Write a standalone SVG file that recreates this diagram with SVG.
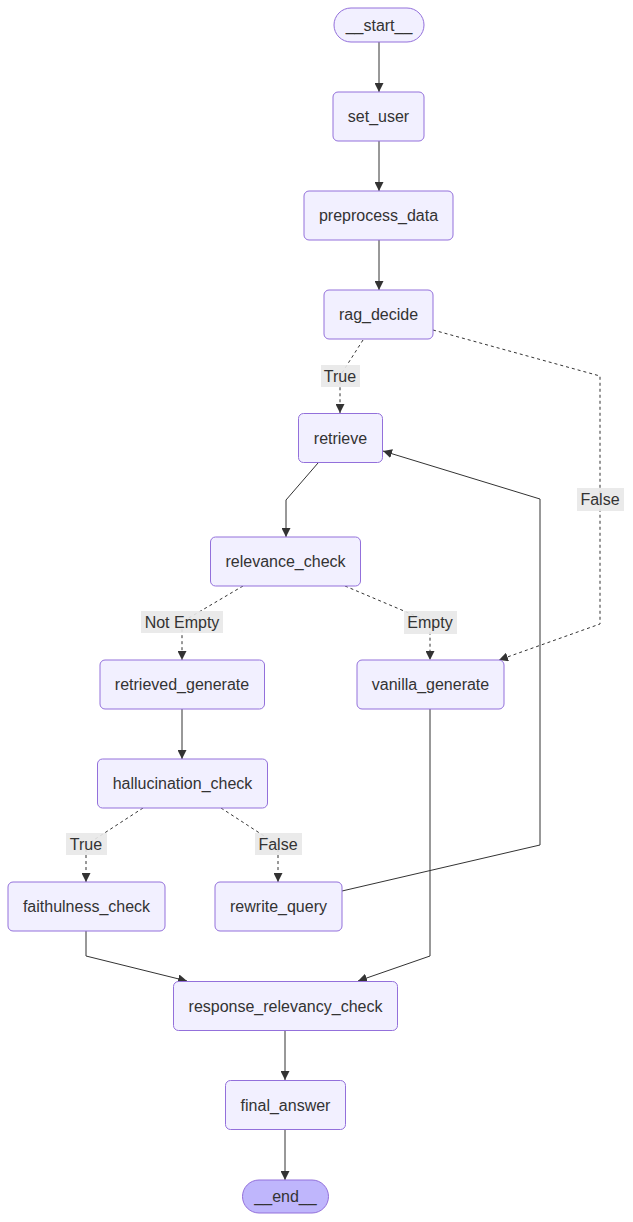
<svg xmlns="http://www.w3.org/2000/svg" width="633" height="1222" viewBox="0 0 633 1222">
<style>
.n rect{fill:#f2f0ff;stroke:#9370db;stroke-width:1}
.n.e rect{fill:#bfb6fc}
text{font-family:"Liberation Sans",Arial,sans-serif;font-size:16px;fill:#333;text-anchor:middle;dominant-baseline:central}
.c path{fill:none;stroke:#333;stroke-width:1}
.c path.d{stroke-dasharray:3 3}
.l rect{fill:#e8e8e8;opacity:0.9}
</style>
<defs>
<marker id="a" viewBox="0 0 10 10" refX="10" refY="5" markerWidth="9" markerHeight="9" markerUnits="userSpaceOnUse" orient="auto">
<path d="M0,0 L10,5 L0,10 z" fill="#333"/>
</marker>
</defs>
<g class="c">
<path d="M379,42 L379,92" marker-end="url(#a)"/>
<path d="M379,141 L379,191" marker-end="url(#a)"/>
<path d="M379,240 L379,290" marker-end="url(#a)"/>
<path class="d" d="M363,340 L340,376 L340,413" marker-end="url(#a)"/>
<path class="d" d="M433,330 L600,376 L600,624 L499,660" marker-end="url(#a)"/>
<path d="M318,463 L286,500 L286,537" marker-end="url(#a)"/>
<path class="d" d="M243,586 L182,622 L182,660" marker-end="url(#a)"/>
<path class="d" d="M345,586 L430,622 L430,660" marker-end="url(#a)"/>
<path d="M182,709 L182,759" marker-end="url(#a)"/>
<path class="d" d="M143,808 L86,845 L86,882" marker-end="url(#a)"/>
<path class="d" d="M221,808 L278,845 L278,882" marker-end="url(#a)"/>
<path d="M342,891 L540,845 L540,499 L383,451" marker-end="url(#a)"/>
<path d="M86,931 L86,956 L187,981" marker-end="url(#a)"/>
<path d="M430,709 L430,956 L358,981" marker-end="url(#a)"/>
<path d="M285,1030 L285,1080" marker-end="url(#a)"/>
<path d="M285,1129 L285,1180" marker-end="url(#a)"/>
</g>
<g class="l">
<g id="l1"><rect x="321" y="365" width="39" height="22"/><text x="340" y="376">True</text></g>
<g id="l2"><rect x="577" y="488" width="47" height="23"/><text x="600" y="499">False</text></g>
<g id="l3"><rect x="141" y="611" width="82" height="22"/><text x="182" y="622">Not Empty</text></g>
<g id="l4"><rect x="404" y="611" width="53" height="23"/><text x="430" y="622">Empty</text></g>
<g id="l5"><rect x="66" y="833" width="41" height="22"/><text x="86" y="844">True</text></g>
<g id="l6"><rect x="255" y="833" width="47" height="22"/><text x="278" y="844">False</text></g>
</g>
<g id="start" class="n"><rect x="334" y="8" width="90" height="34" rx="17"/><text x="379" y="25">__start__</text></g>
<g id="set_user" class="n"><rect x="333" y="92" width="91" height="49" rx="5"/><text x="378.5" y="116.5">set_user</text></g>
<g id="preprocess_data" class="n"><rect x="304" y="191" width="149" height="49" rx="5"/><text x="378.5" y="215.5">preprocess_data</text></g>
<g id="rag_decide" class="n"><rect x="324" y="290" width="109" height="49" rx="5"/><text x="378.5" y="314.5">rag_decide</text></g>
<g id="retrieve" class="n"><rect x="298.5" y="413.5" width="84" height="49" rx="5"/><text x="340.5" y="438">retrieve</text></g>
<g id="relevance_check" class="n"><rect x="210.5" y="537" width="150" height="49" rx="5"/><text x="285.5" y="561.5">relevance_check</text></g>
<g id="retrieved_generate" class="n"><rect x="100" y="660" width="164.5" height="49" rx="5"/><text x="182" y="684.5">retrieved_generate</text></g>
<g id="vanilla_generate" class="n"><rect x="357" y="660" width="147" height="49" rx="5"/><text x="430.5" y="684.5">vanilla_generate</text></g>
<g id="hallucination_check" class="n"><rect x="97.5" y="759" width="170" height="49" rx="5"/><text x="182.5" y="783.5">hallucination_check</text></g>
<g id="faithulness_check" class="n"><rect x="8" y="882" width="157" height="49" rx="5"/><text x="86.5" y="906.5">faithulness_check</text></g>
<g id="rewrite_query" class="n"><rect x="215" y="882" width="127" height="49" rx="5"/><text x="278.5" y="906.5">rewrite_query</text></g>
<g id="response_relevancy_check" class="n"><rect x="173.5" y="981.5" width="224" height="49" rx="5"/><text x="285.5" y="1006">response_relevancy_check</text></g>
<g id="final_answer" class="n"><rect x="225.5" y="1080.5" width="120" height="49" rx="5"/><text x="285.5" y="1105">final_answer</text></g>
<g id="end" class="n e"><rect x="242.5" y="1180" width="86" height="33" rx="16.5"/><text x="285.5" y="1196.5">__end__</text></g>
</svg>
